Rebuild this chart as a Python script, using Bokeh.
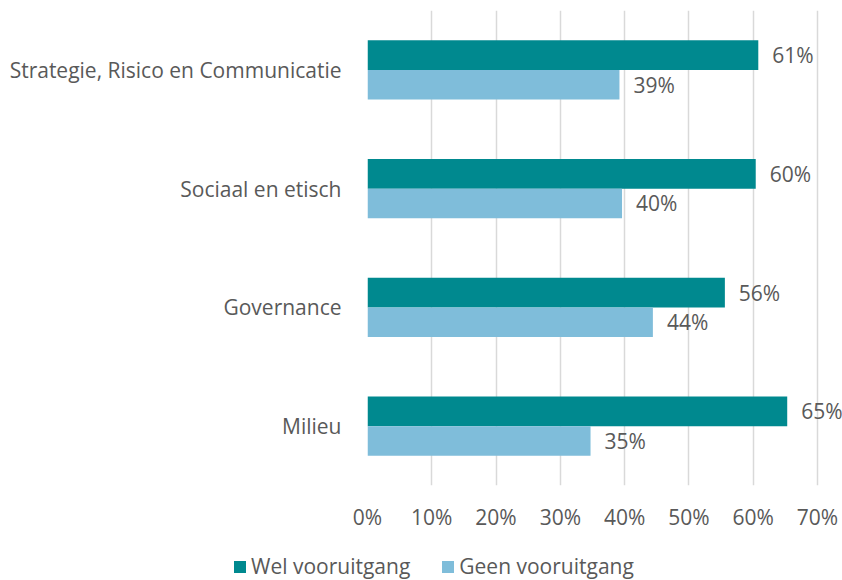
from bokeh.plotting import figure
from bokeh.models import ColumnDataSource, FactorRange, Range1d, Legend, LegendItem, FixedTicker, LabelSet, CustomJSTickFormatter
from bokeh.transform import dodge
from bokeh.embed import file_html
from bokeh.resources import INLINE
from bokeh.core.properties import value

categories = ["Milieu", "Governance", "Sociaal en etisch", "Strategie, Risico en Communicatie"]
wel = [65.3, 55.6, 60.4, 60.8]
geen = [34.7, 44.4, 39.6, 39.2]
series_names = ["Wel vooruitgang", "Geen vooruitgang"]
x_ticks = [0, 10, 20, 30, 40, 50, 60, 70]

FONT = "Open Sans"
FS = "21px"
TXT = "#595959"
C_WEL = "#00898F"
C_GEEN = "#7FBDDA"

src = ColumnDataSource(dict(
    cat=categories, wel=wel, geen=geen,
    wel_lbl=[f"{round(v)}%" for v in wel],
    geen_lbl=[f"{round(v)}%" for v in geen],
))

p = figure(width=842, height=540, y_range=FactorRange(*categories, range_padding=0),
           x_range=Range1d(0, 73.9), output_backend="svg", toolbar_location=None,
           min_border_left=367, min_border_right=0, min_border_top=10, min_border_bottom=55)
p.outline_line_color = None

p.hbar(y=dodge("cat", 0.125, range=p.y_range), right="wel", left=0, height=0.25,
       source=src, color=C_WEL, line_color=None)
p.hbar(y=dodge("cat", -0.125, range=p.y_range), right="geen", left=0, height=0.25,
       source=src, color=C_GEEN, line_color=None)

for col, lbl, off in (("wel", "wel_lbl", 0.125), ("geen", "geen_lbl", -0.125)):
    p.add_layout(LabelSet(x=col, y=dodge("cat", off, range=p.y_range), text=lbl, source=src,
                          x_offset=14, text_baseline="middle", text_font=value(FONT),
                          text_font_size=FS, text_color=TXT))

p.xaxis.ticker = FixedTicker(ticks=x_ticks)
p.xaxis.formatter = CustomJSTickFormatter(code="return tick + '%';")
for ax in (p.xaxis, p.yaxis):
    ax.axis_line_color = None
    ax.major_tick_line_color = None
    ax.minor_tick_line_color = None
    ax.major_label_text_font = FONT
    ax.major_label_text_font_size = FS
    ax.major_label_text_color = TXT
p.xaxis.major_label_standoff = 11
p.yaxis.major_label_standoff = 20

p.xgrid.ticker = FixedTicker(ticks=x_ticks)
p.xgrid.grid_line_color = "#D9D9D9"
p.xgrid.grid_line_width = 1.5
p.ygrid.grid_line_color = None

# legend strip (separate root so it is not aligned to the chart frame)
p2 = figure(width=842, height=40, y_range=FactorRange(*categories), x_range=Range1d(-2, -1),
            output_backend="svg", toolbar_location=None, min_border=0)
p2.axis.visible = False
p2.grid.visible = False
p2.outline_line_color = None
lr1 = p2.hbar(y="cat", right="wel", left=0, height=0.25, source=src, color=C_WEL, line_color=None)
lr2 = p2.hbar(y="cat", right="geen", left=0, height=0.25, source=src, color=C_GEEN, line_color=None)
legend = Legend(items=[LegendItem(label=series_names[0], renderers=[lr1]),
                       LegendItem(label=series_names[1], renderers=[lr2])],
                orientation="horizontal", location=(232, 0),
                label_text_font=FONT, label_text_font_size=FS, label_text_color=TXT,
                glyph_width=15, glyph_height=15, spacing=30, label_standoff=4,
                border_line_color=None, background_fill_alpha=0, margin=0, padding=0)
p2.add_layout(legend)

open("out.html", "w").write(file_html([p, p2], INLINE))
